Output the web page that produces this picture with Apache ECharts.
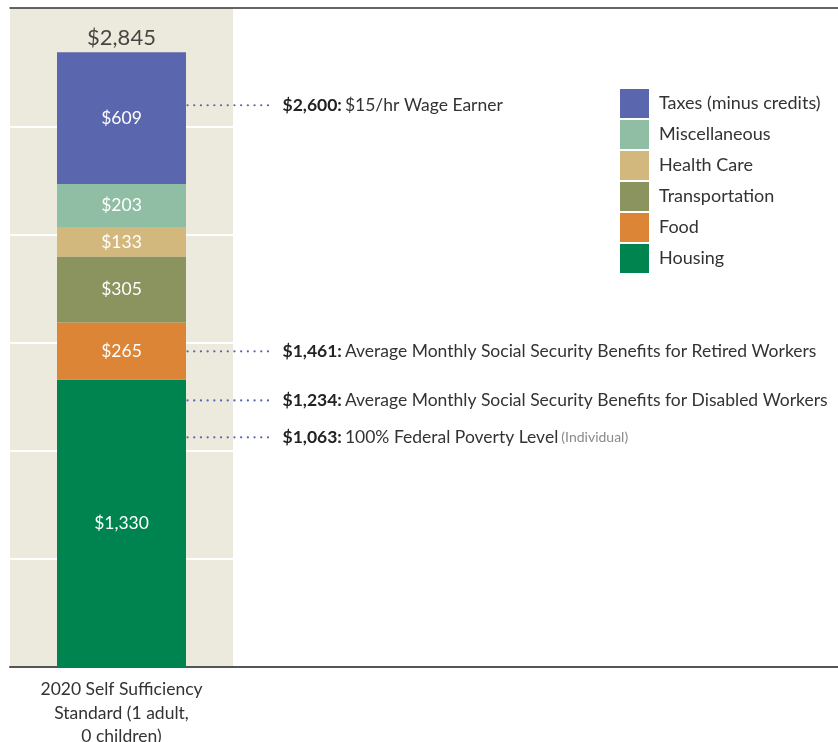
<!DOCTYPE html>
<html>
<head>
<meta charset="utf-8">
<script src="https://cdn.jsdelivr.net/npm/echarts@6/dist/echarts.min.js"></script>
<style>
  html, body { margin: 0; padding: 0; background: #fff; }
  #chart { width: 838px; height: 742px; }
</style>
</head>
<body>
<div id="chart"></div>
<script>
// 数据
var categories = ['2020 Self Sufficiency\nStandard (1 adult,\n0 children)'];
var housing = [1330];
var food = [265];
var transportation = [305];
var healthCare = [133];
var miscellaneous = [203];
var taxes = [609];
var totals = [2845];

// 参考线: 数值 + 说明
var refValues = [2600, 1461, 1234, 1063];
var refTitles = ['$2,600:', '$1,461:', '$1,234:', '$1,063:'];
var refTexts = [
  '$15/hr Wage Earner',
  'Average Monthly Social Security Benefits for Retired Workers',
  'Average Monthly Social Security Benefits for Disabled Workers',
  '100% Federal Poverty Level'
];
var refNotes = ['', '', '', '(Individual)'];

var FONT = 'Lato';
var yMax = 3050;

var chart = echarts.init(document.getElementById('chart'));

function seg(name, data, color) {
  return {
    name: name,
    type: 'bar',
    stack: 'total',
    xAxisIndex: 0,
    yAxisIndex: 0,
    barWidth: 129,
    data: data,
    itemStyle: { color: color },
    label: {
      show: true,
      position: 'inside',
      color: '#fff',
      fontFamily: FONT,
      fontSize: 17.5,
      formatter: function (p) { return '$' + p.value.toLocaleString('en-US'); }
    }
  };
}

var option = {
  animation: false,
  backgroundColor: '#fff',
  textStyle: { fontFamily: FONT },
  grid: [
    // 柱子所在的米色区域
    { left: 10, right: 605, top: 8, bottom: 75, show: true, backgroundColor: '#eceadd', borderWidth: 0, outerBoundsMode: 'none' },
    // 整宽的上下线
    { left: 10, right: 0, top: 8, bottom: 75, outerBoundsMode: 'none' }
  ],
  legend: {
    orient: 'vertical',
    left: 620,
    top: 89,
    padding: 0,
    itemWidth: 29,
    itemHeight: 29,
    itemGap: 2,
    icon: 'rect',
    textStyle: { color: '#333', fontSize: 18, fontFamily: FONT, padding: [0, 0, 0, 5] },
    data: ['Taxes (minus credits)', 'Miscellaneous', 'Health Care', 'Transportation', 'Food', 'Housing']
  },
  xAxis: [
    {
      type: 'category',
      gridIndex: 0,
      data: categories,
      axisLine: { show: false },
      axisTick: { show: false },
      axisLabel: { color: '#333', fontSize: 17.5, lineHeight: 23.5, margin: 11, fontFamily: FONT }
    },
    {
      type: 'value', gridIndex: 1, min: 0, max: 1, position: 'bottom',
      axisLine: { show: true, lineStyle: { color: '#555', width: 2 } },
      axisTick: { show: false }, axisLabel: { show: false }, splitLine: { show: false }
    },
    {
      type: 'value', gridIndex: 1, min: 0, max: 1, position: 'top',
      axisLine: { show: true, lineStyle: { color: '#333', width: 1.5 } },
      axisTick: { show: false }, axisLabel: { show: false }, splitLine: { show: false }
    }
  ],
  yAxis: [
    {
      type: 'value',
      gridIndex: 0,
      min: 0,
      max: yMax,
      interval: 500,
      axisLine: { show: false },
      axisTick: { show: false },
      axisLabel: { show: false },
      splitLine: {
        show: true,
        lineStyle: {
          width: 2,
          color: ['#fff', '#fff', '#fff', '#fff', '#fff', '#fff', 'rgba(0,0,0,0)', 'rgba(0,0,0,0)']
        }
      }
    },
    { type: 'value', gridIndex: 1, min: 0, max: 1, show: false }
  ],
  series: [
    seg('Housing', housing, '#00844f'),
    seg('Food', food, '#dc8537'),
    seg('Transportation', transportation, '#8b945e'),
    seg('Health Care', healthCare, '#d2b87d'),
    seg('Miscellaneous', miscellaneous, '#8fbea5'),
    seg('Taxes (minus credits)', taxes, '#5a66ae'),
    {
      // 总数标签
      name: 'total',
      type: 'scatter',
      xAxisIndex: 0,
      yAxisIndex: 0,
      symbolSize: 0,
      data: totals,
      label: {
        show: true,
        position: 'top',
        distance: 3,
        color: '#1a1a1a',
        fontSize: 22,
        fontFamily: FONT,
        formatter: function (p) { return '$' + p.value.toLocaleString('en-US'); }
      }
    },
    {
      // 参考线
      name: 'refs',
      type: 'custom',
      xAxisIndex: 0,
      yAxisIndex: 0,
      z: 5,
      data: refValues.map(function (v, i) { return [0, v, i]; }),
      renderItem: function (params, api) {
        var i = api.value(2);
        var pt = api.coord([api.value(0), api.value(1)]);
        var x0 = pt[0] + 66, x1 = pt[0] + 150, y = pt[1];
        var txt = '{b|' + refTitles[i] + '} {t|' + refTexts[i] + '}';
        if (refNotes[i]) txt += ' {n|' + refNotes[i] + '}';
        return {
          type: 'group',
          children: [
            {
              type: 'line',
              shape: { x1: x0, y1: y, x2: x1, y2: y },
              style: { stroke: '#5a66ae', lineWidth: 2.2, lineDash: [0.1, 6.6], lineCap: 'round' }
            },
            {
              type: 'text',
              x: pt[0] + 161,
              y: y,
              style: {
                text: txt,
                verticalAlign: 'middle',
                fontFamily: FONT,
                fill: '#333',
                rich: {
                  b: { fontWeight: 'bold', fontSize: 17.5, fill: '#222', fontFamily: FONT },
                  t: { fontSize: 17.5, fill: '#333', fontFamily: FONT },
                  n: { fontSize: 14, fill: '#8a8a8a', fontFamily: FONT }
                }
              }
            }
          ]
        };
      }
    }
  ]
};

chart.setOption(option);
</script>
</body>
</html>
